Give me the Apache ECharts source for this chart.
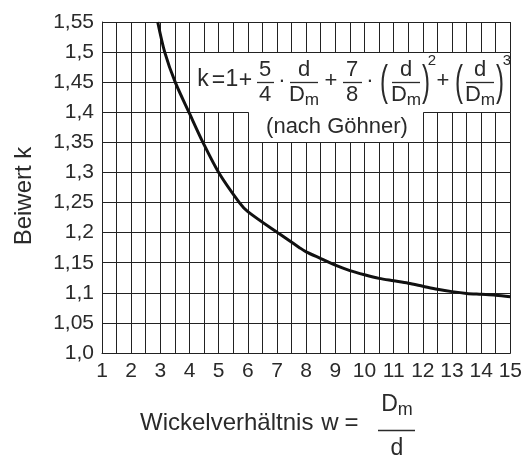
<!DOCTYPE html>
<html><head><meta charset="utf-8">
<script src="https://cdn.jsdelivr.net/npm/echarts@6/dist/echarts.min.js"></script>
<style>html,body{margin:0;padding:0;background:#fff}#c{width:525px;height:461px}</style>
</head><body><div id="c"></div>
<script>
// ---- data ----
const wValues = [2.91, 3.15, 3.51, 4.0, 4.46, 5.0, 5.71, 6.0, 7.08, 7.76, 8.0, 8.5, 9.0, 9.5, 10.0, 10.5, 11.0, 11.5, 12.0, 12.5, 13.0, 13.5, 14.0, 14.5, 15.0];
const kValues = [1.55, 1.50, 1.45, 1.398, 1.35, 1.30, 1.25, 1.235, 1.198, 1.1755, 1.168, 1.157, 1.146, 1.137, 1.13, 1.124, 1.12, 1.116, 1.111, 1.106, 1.102, 1.099, 1.0975, 1.096, 1.0935];
const xTickLabels = ['1','2','3','4','5','6','7','8','9','10','11','12','13','14','15'];
const yTickLabels = ['1,0','1,05','1,1','1,15','1,2','1,25','1,3','1,35','1,4','1,45','1,5','1,55'];
const boxX = [4, 15, 15, 12, 12, 6, 6, 4, 4];
const boxY = [1.5, 1.5, 1.4, 1.4, 1.35, 1.35, 1.4, 1.4, 1.5];

const FONT = "'Liberation Sans', Arial, sans-serif";
const TXT = '#2a2a2a';
const LINE = '#222';

const chart = echarts.init(document.getElementById('c'), null, {renderer: 'canvas'});

function t(x, y, s, size, extra) {
  return {type: 'text', x: x, y: y, z: 100,
    style: Object.assign({text: s, fontFamily: FONT, fontSize: size || 22, fill: TXT,
      align: 'center', verticalAlign: 'middle'}, (extra || {}))};
}
function hline(x1, x2, y) {
  return {type: 'line', z: 100, shape: {x1: x1, y1: y + 0.5, x2: x2, y2: y + 0.5}, style: {stroke: TXT, lineWidth: 1.3}};
}
function dm(cx, cy, size) {
  return {type: 'text', x: cx, y: cy, z: 100, style: {
    text: '{D|D}{m|m}', fontFamily: FONT, align: 'center', verticalAlign: 'middle', fill: TXT,
    rich: {D: {fontSize: size, fontFamily: FONT, fill: TXT, verticalAlign: 'bottom'},
           m: {fontSize: size * 0.78, fontFamily: FONT, fill: TXT, verticalAlign: 'bottom', padding: [0, 0, -3, 0]}}}};
}
function paren(x, s) {
  return {type: 'text', x: x, y: 83, z: 100, scaleY: 1.75, style: {text: s, fontFamily: FONT, fontSize: 24, fill: TXT, align: 'center', verticalAlign: 'middle'}};
}

const formula = [
  t(203, 80, 'k', 23), t(218.5, 81, '=', 23), t(232, 80, '1', 23), t(245.5, 81, '+', 23),
  t(265, 70, '5'), hline(257, 274, 82), t(265, 95, '4'),
  t(282, 81, '·'),
  t(304, 70, 'd'), hline(290, 318, 82), dm(304, 95, 22),
  t(331, 81, '+'),
  t(352, 70, '7'), hline(343, 362, 82), t(352, 95, '8'),
  t(370, 81, '·'),
  paren(384, '('), t(406, 70, 'd'), hline(392, 420, 82), dm(406, 95, 22), paren(426, ')'),
  t(432, 61, '2', 15),
  t(443, 81, '+'),
  paren(459, '('), t(480, 70, 'd'), hline(466, 494, 82), dm(480, 95, 22), paren(500, ')'),
  t(507, 61, '3', 15),
  t(337, 127, '(nach Göhner)', 22),
  // y-axis title
  {type: 'text', x: 24, y: 196, rotation: Math.PI / 2, z: 100,
   style: {text: 'Beiwert k', fontFamily: FONT, fontSize: 24, fill: TXT, align: 'center', verticalAlign: 'middle'}},
  // x-axis title
  t(140, 423, 'Wickelverhältnis', 24, {align: 'left'}),
  t(330, 423, 'w', 24), t(351.5, 423, '=', 24),
  dm(397, 405, 23), hline(378, 415, 430), t(397, 449, 'd', 23)
];

chart.setOption({
  animation: false,
  backgroundColor: '#fff',
  grid: {left: 102, top: 22, right: 13, bottom: 108, containLabel: false},
  xAxis: {
    type: 'value', min: 1, max: 15, interval: 0.5,
    axisLine: {show: true, lineStyle: {color: LINE, width: 1}},
    axisTick: {show: false},
    splitLine: {show: true, lineStyle: {color: LINE, width: 1}},
    axisLabel: {
      margin: 8, color: TXT, fontFamily: FONT, fontSize: 21,
      showMinLabel: true, showMaxLabel: true,
      formatter: function (v) {
        const r = Math.round(v);
        if (Math.abs(v - r) > 1e-6) return '';
        return xTickLabels[r - 1] || '';
      }
    }
  },
  yAxis: {
    type: 'value', min: 1, max: 1.55, interval: 0.05,
    axisLine: {show: true, lineStyle: {color: LINE, width: 1}},
    axisTick: {show: false},
    splitLine: {show: true, lineStyle: {color: LINE, width: 1}},
    axisLabel: {
      margin: 8, color: TXT, fontFamily: FONT, fontSize: 21,
      showMinLabel: true, showMaxLabel: true,
      formatter: function (v) {
        const i = Math.round((v - 1) / 0.05);
        return yTickLabels[i] || '';
      }
    }
  },
  series: [
    {
      type: 'custom', z: 3, silent: true,
      data: [[boxX[0], boxY[0]]],
      renderItem: function (params, api) {
        const pts = boxX.map(function (x, i) {
          const p = api.coord([x, boxY[i]]);
          return [Math.round(p[0]) + 0.5, Math.round(p[1]) + 0.5];
        });
        return {type: 'polygon', shape: {points: pts}, style: {fill: '#fff', stroke: LINE, lineWidth: 1}};
      }
    },
    {
      type: 'line', z: 5, smooth: 0.3, symbol: 'none',
      data: wValues.map(function (w, i) { return [w, kValues[i]]; }),
      lineStyle: {color: '#111', width: 3}
    }
  ],
  graphic: formula
});
</script></body></html>
